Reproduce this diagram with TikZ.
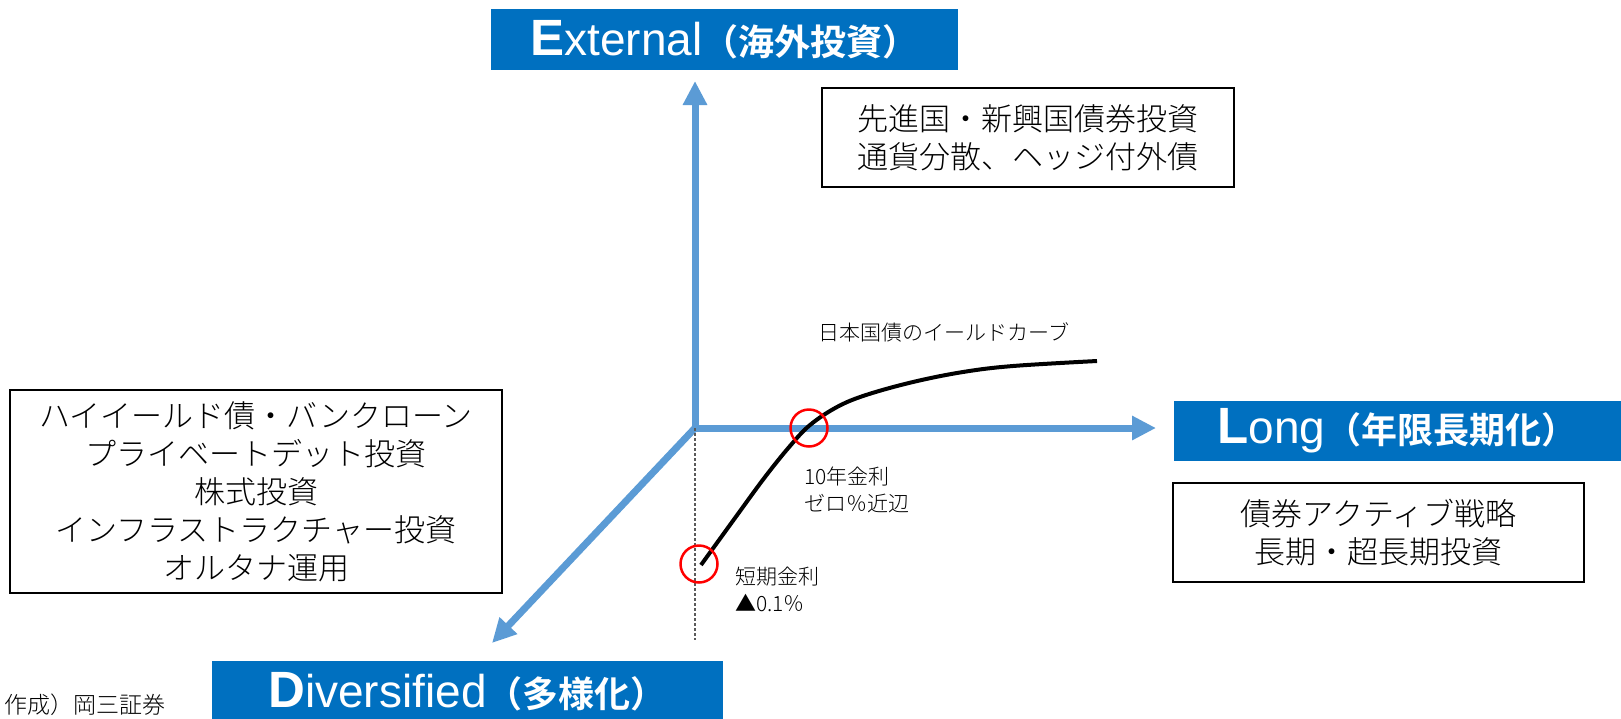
\documentclass[tikz,border=0pt]{standalone}
\usepackage{fontspec}
\setmainfont{Liberation Sans}
\newfontfamily\jp{Noto Sans CJK JP Light}
\newfontfamily\jpb{Noto Sans CJK JP Bold}
\usetikzlibrary{arrows.meta}
\definecolor{hdr}{RGB}{0,112,192}
\definecolor{axisblue}{RGB}{91,155,213}
\definecolor{dashgray}{RGB}{90,90,90}
\newcommand\hdrtext[3]{{\fontsize{51}{51}\selectfont\bfseries #1}{\fontsize{46}{46}\selectfont #2}{\jpb\fontsize{36}{36}\selectfont （#3）}}
\tikzset{
  hdrbox/.style={fill=hdr, text=white, inner sep=0pt, anchor=center},
  infobox/.style={draw=black, line width=2.5pt, align=center, inner sep=0pt, font=\jp\fontsize{31}{38}\selectfont},
  smalllabel/.style={align=left, inner sep=0pt, font=\jp\fontsize{21}{27}\selectfont},
  axisline/.style={draw=axisblue, line width=7pt, -{Triangle[length=24pt,width=23pt]}},
  ratecircle/.style={draw=red, line width=2.5pt, circle, minimum size=37pt, inner sep=0pt},
  guide/.style={draw=dashgray, line width=1.3pt, dash pattern=on 3pt off 2pt},
}
\begin{document}
\begin{tikzpicture}[x=1pt,y=-1pt]
\useasboundingbox (0,0) rectangle (1621,718);
% axes
\coordinate (O) at (695,428);
\coordinate (vtip) at (695,81);
\coordinate (htip) at (1156,428);
\coordinate (dtip) at (492,643);
\coordinate (Ol) at (691.5,428);
\draw[axisline] (O) -- (vtip);
\draw[axisline] (Ol) -- (htip);
\draw[axisline, line join=miter] (O) -- (dtip);
% dotted guide
\coordinate (gbot) at (695,640);
\draw[guide] (O) -- (gbot);
% headers
\node[hdrbox, minimum width=467pt, minimum height=61pt] (ext) at (724.5,39.5) {\hdrtext{E}{xternal}{海外投資}};
\node[hdrbox, minimum width=447pt, minimum height=60pt] (long) at (1397.5,431) {\hdrtext{L}{ong}{年限長期化}};
\node[hdrbox, minimum width=511pt, minimum height=61pt] (div) at (467.5,691.5) {\hdrtext{D}{iversified}{多様化}};
% info boxes
\node[infobox, minimum width=412pt, minimum height=99pt] (extbox) at (1028,137.5) {先進国・新興国債券投資\\通貨分散、ヘッジ付外債};
\node[infobox, minimum width=492pt, minimum height=203pt] (divbox) at (256,491.5) {ハイイールド債・バンクローン\\プライベートデット投資\\株式投資\\インフラストラクチャー投資\\オルタナ運用};
\node[infobox, minimum width=411pt, minimum height=99pt] (longbox) at (1378.5,532.5) {債券アクティブ戦略\\長期・超長期投資};
% yield curve
\draw[line width=4pt, line cap=butt] plot[smooth, tension=0.6] coordinates {(701,565) (735,518) (765,477) (790,446) (810,425) (837,407) (866,395) (913,382) (963,372) (1013,366) (1097,361)};
\node[ratecircle] (c10) at (809,428) {};
\node[ratecircle] (cshort) at (699,564) {};
% labels
\node[smalllabel, anchor=center] (ycl) at (944,332) {日本国債のイールドカーブ};
\node[smalllabel, anchor=north west] (l10) at (804,467) {10年金利\\ゼロ％近辺};
\node[smalllabel, anchor=north west] (lshort) at (735,567) {短期金利\\▲0.1％};
\node[anchor=east, inner sep=0pt, font=\jp\fontsize{23}{23}\selectfont] (src) at (166,705) {作成）岡三証券};
\end{tikzpicture}
\end{document}
